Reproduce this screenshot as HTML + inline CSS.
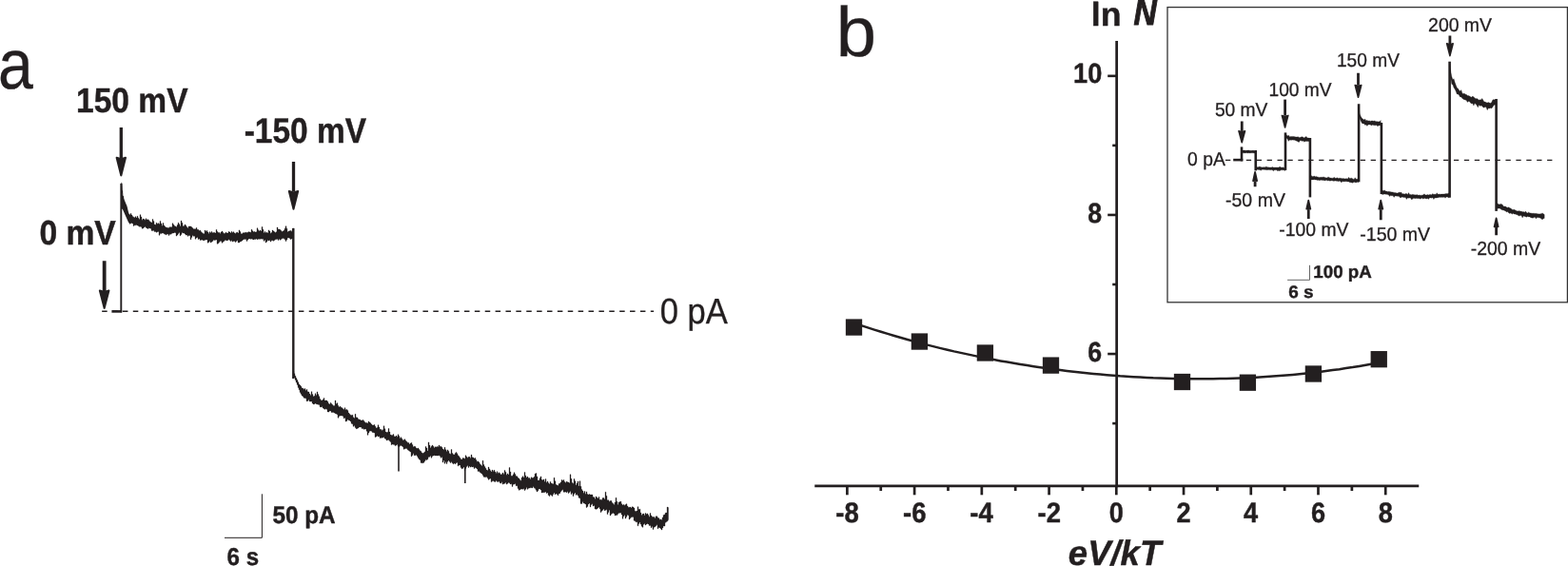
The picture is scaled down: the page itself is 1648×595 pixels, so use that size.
<!DOCTYPE html>
<html lang="en">
<head>
<meta charset="utf-8">
<title>Figure</title>
<style>
html,body{margin:0;padding:0;background:#fff;}
body{width:1648px;height:595px;overflow:hidden;}
svg{display:block;}
svg text{font-family:"Liberation Sans",sans-serif;fill:#231f20;text-rendering:geometricPrecision;}
</style>
</head>
<body>
<svg width="1648" height="595" viewBox="0 0 1648 595">
<rect x="0" y="0" width="1648" height="595" fill="#ffffff"/>
<text xml:space="preserve" transform="translate(-2.06 92.86) scale(0.8984 1)" font-size="73.70" stroke="#231f20" stroke-width="0.30" stroke-linejoin="round"><tspan>a</tspan></text>
<text xml:space="preserve" transform="translate(80.03 117.51) scale(0.9217 1)" font-size="36.40" stroke="#231f20" stroke-width="0.45" stroke-linejoin="round"><tspan font-weight="bold">150 mV</tspan></text>
<text xml:space="preserve" transform="translate(256.64 150.30) scale(0.8989 1)" font-size="37.24" stroke="#231f20" stroke-width="0.45" stroke-linejoin="round"><tspan font-weight="bold">-150 mV</tspan></text>
<text xml:space="preserve" transform="translate(41.38 257.41) scale(0.9315 1)" font-size="36.11" stroke="#231f20" stroke-width="0.45" stroke-linejoin="round"><tspan font-weight="bold">0 mV</tspan></text>
<text xml:space="preserve" transform="translate(693.77 340.47) scale(0.9166 1)" font-size="37.74" stroke="#231f20" stroke-width="0.30" stroke-linejoin="round"><tspan>0 pA</tspan></text>
<text xml:space="preserve" transform="translate(286.40 550.32) scale(0.9576 1)" font-size="25.37" stroke="#231f20" stroke-width="0.45" stroke-linejoin="round"><tspan font-weight="bold">50 pA</tspan></text>
<text xml:space="preserve" transform="translate(238.62 593.82) scale(0.9400 1)" font-size="25.65" stroke="#231f20" stroke-width="0.45" stroke-linejoin="round"><tspan font-weight="bold">6 s</tspan></text>
<rect x="125.65" y="134.00" width="3.30" height="32.30" fill="#231f20"/>
<polygon points="127.30,184.40 122.60,165.80 127.30,167.30 132.00,165.80" fill="#231f20" stroke="#231f20" stroke-width="2.00" stroke-linejoin="round"/>
<rect x="306.85" y="170.00" width="3.30" height="31.50" fill="#231f20"/>
<polygon points="308.50,219.70 303.80,201.00 308.50,202.50 313.20,201.00" fill="#231f20" stroke="#231f20" stroke-width="2.00" stroke-linejoin="round"/>
<rect x="107.75" y="274.25" width="3.80" height="31.75" fill="#231f20"/>
<polygon points="109.65,323.90 104.85,305.50 109.65,307.00 114.45,305.50" fill="#231f20" stroke="#231f20" stroke-width="2.00" stroke-linejoin="round"/>
<line x1="107.16" y1="327.20" x2="687.10" y2="327.20" stroke="#231f20" stroke-width="1.40" stroke-dasharray="5.5 5.38"/>
<polyline points="236.0,565.3 275.4,565.3 275.4,519.3" fill="none" stroke="#231f20" stroke-width="1.00" stroke-linejoin="miter" stroke-linecap="butt"/>
<line x1="117.40" y1="327.40" x2="128.20" y2="327.40" stroke="#231f20" stroke-width="2.60"/>
<line x1="127.30" y1="328.30" x2="127.30" y2="193.00" stroke="#231f20" stroke-width="1.90"/>
<line x1="308.30" y1="240.00" x2="308.30" y2="398.00" stroke="#231f20" stroke-width="2.40"/>
<polygon points="127.7,191.9 128.0,191.9 128.0,200.4 129.0,200.4 129.0,206.3 130.0,206.3 130.0,211.5 131.0,211.5 131.0,215.5 132.0,215.5 132.0,218.7 133.0,218.7 133.0,221.7 134.0,221.7 134.0,223.2 135.0,223.2 135.0,225.3 136.0,225.3 136.0,226.6 137.0,226.6 137.0,224.4 138.0,224.4 138.0,226.0 139.0,226.0 139.0,227.4 140.0,227.4 140.0,228.3 141.0,228.3 141.0,228.7 142.0,228.7 142.0,227.7 143.0,227.7 143.0,229.1 144.0,229.1 144.0,227.3 145.0,227.3 145.0,229.2 146.0,229.2 146.0,230.6 147.0,230.6 147.0,225.7 148.0,225.7 148.0,228.0 149.0,228.0 149.0,231.2 150.0,231.2 150.0,230.1 151.0,230.1 151.0,230.6 152.0,230.6 152.0,231.3 153.0,231.3 153.0,229.8 154.0,229.8 154.0,231.1 155.0,231.1 155.0,230.7 156.0,230.7 156.0,231.6 157.0,231.6 157.0,232.8 158.0,232.8 158.0,233.6 159.0,233.6 159.0,233.9 160.0,233.9 160.0,230.5 161.0,230.5 161.0,232.6 162.0,232.6 162.0,235.9 163.0,235.9 163.0,236.3 164.0,236.3 164.0,234.2 165.0,234.2 165.0,235.3 166.0,235.3 166.0,234.7 167.0,234.7 167.0,235.5 168.0,235.5 168.0,232.4 169.0,232.4 169.0,235.0 170.0,235.0 170.0,237.3 171.0,237.3 171.0,234.5 172.0,234.5 172.0,237.1 173.0,237.1 173.0,238.2 174.0,238.2 174.0,239.1 175.0,239.1 175.0,239.3 176.0,239.3 176.0,239.6 177.0,239.6 177.0,239.5 178.0,239.5 178.0,238.7 179.0,238.7 179.0,238.8 180.0,238.8 180.0,238.7 181.0,238.7 181.0,234.8 182.0,234.8 182.0,236.3 183.0,236.3 183.0,237.4 184.0,237.4 184.0,238.0 185.0,238.0 185.0,238.4 186.0,238.4 186.0,236.6 187.0,236.6 187.0,234.2 188.0,234.2 188.0,235.7 189.0,235.7 189.0,237.8 190.0,237.8 190.0,232.1 191.0,232.1 191.0,234.2 192.0,234.2 192.0,237.8 193.0,237.8 193.0,237.6 194.0,237.6 194.0,236.0 195.0,236.0 195.0,237.3 196.0,237.3 196.0,238.8 197.0,238.8 197.0,239.7 198.0,239.7 198.0,237.9 199.0,237.9 199.0,237.9 200.0,237.9 200.0,238.0 201.0,238.0 201.0,238.8 202.0,238.8 202.0,239.7 203.0,239.7 203.0,240.8 204.0,240.8 204.0,240.7 205.0,240.7 205.0,240.7 206.0,240.7 206.0,239.5 207.0,239.5 207.0,241.2 208.0,241.2 208.0,241.5 209.0,241.5 209.0,242.6 210.0,242.6 210.0,242.2 211.0,242.2 211.0,243.8 212.0,243.8 212.0,244.7 213.0,244.7 213.0,245.4 214.0,245.4 214.0,245.8 215.0,245.8 215.0,242.1 216.0,242.1 216.0,243.3 217.0,243.3 217.0,242.4 218.0,242.4 218.0,244.0 219.0,244.0 219.0,245.4 220.0,245.4 220.0,243.8 221.0,243.8 221.0,244.7 222.0,244.7 222.0,243.6 223.0,243.6 223.0,244.8 224.0,244.8 224.0,244.4 225.0,244.4 225.0,244.6 226.0,244.6 226.0,245.1 227.0,245.1 227.0,241.4 228.0,241.4 228.0,243.6 229.0,243.6 229.0,244.6 230.0,244.6 230.0,244.5 231.0,244.5 231.0,245.4 232.0,245.4 232.0,243.9 233.0,243.9 233.0,243.1 234.0,243.1 234.0,244.4 235.0,244.4 235.0,245.5 236.0,245.5 236.0,245.3 237.0,245.3 237.0,244.2 238.0,244.2 238.0,245.0 239.0,245.0 239.0,245.0 240.0,245.0 240.0,243.5 241.0,243.5 241.0,244.1 242.0,244.1 242.0,245.0 243.0,245.0 243.0,243.4 244.0,243.4 244.0,244.5 245.0,244.5 245.0,243.8 246.0,243.8 246.0,244.9 247.0,244.9 247.0,245.5 248.0,245.5 248.0,244.4 249.0,244.4 249.0,244.2 250.0,244.2 250.0,244.9 251.0,244.9 251.0,241.9 252.0,241.9 252.0,243.6 253.0,243.6 253.0,245.8 254.0,245.8 254.0,245.7 255.0,245.7 255.0,244.8 256.0,244.8 256.0,244.7 257.0,244.7 257.0,244.4 258.0,244.4 258.0,244.3 259.0,244.3 259.0,244.4 260.0,244.4 260.0,244.3 261.0,244.3 261.0,243.7 262.0,243.7 262.0,244.1 263.0,244.1 263.0,244.3 264.0,244.3 264.0,241.3 265.0,241.3 265.0,242.8 266.0,242.8 266.0,243.7 267.0,243.7 267.0,243.5 268.0,243.5 268.0,244.1 269.0,244.1 269.0,243.8 270.0,243.8 270.0,239.8 271.0,239.8 271.0,241.7 272.0,241.7 272.0,243.1 273.0,243.1 273.0,242.0 274.0,242.0 274.0,243.0 275.0,243.0 275.0,238.5 276.0,238.5 276.0,241.3 277.0,241.3 277.0,244.7 278.0,244.7 278.0,243.6 279.0,243.6 279.0,244.7 280.0,244.7 280.0,244.3 281.0,244.3 281.0,245.0 282.0,245.0 282.0,241.9 283.0,241.9 283.0,243.1 284.0,243.1 284.0,245.2 285.0,245.2 285.0,244.6 286.0,244.6 286.0,242.0 287.0,242.0 287.0,242.9 288.0,242.9 288.0,243.8 289.0,243.8 289.0,244.5 290.0,244.5 290.0,243.8 291.0,243.8 291.0,239.0 292.0,239.0 292.0,240.9 293.0,240.9 293.0,241.0 294.0,241.0 294.0,241.4 295.0,241.4 295.0,242.5 296.0,242.5 296.0,243.5 297.0,243.5 297.0,243.0 298.0,243.0 298.0,242.2 299.0,242.2 299.0,240.2 300.0,240.2 300.0,237.8 301.0,237.8 301.0,240.2 302.0,240.2 302.0,243.7 303.0,243.7 303.0,243.1 304.0,243.1 304.0,242.7 305.0,242.7 305.0,242.4 306.0,242.4 306.0,243.2 307.0,243.2 307.0,242.0 308.0,242.0 308.0,239.7 308.2,239.7 308.2,250.0 308.0,250.0 308.0,250.2 307.0,250.2 307.0,251.1 306.0,251.1 306.0,251.5 305.0,251.5 305.0,250.4 304.0,250.4 304.0,250.1 303.0,250.1 303.0,250.1 302.0,250.1 302.0,252.0 301.0,252.0 301.0,253.5 300.0,253.5 300.0,251.8 299.0,251.8 299.0,250.8 298.0,250.8 298.0,250.6 297.0,250.6 297.0,250.8 296.0,250.8 296.0,251.4 295.0,251.4 295.0,252.2 294.0,252.2 294.0,251.3 293.0,251.3 293.0,252.4 292.0,252.4 292.0,251.2 291.0,251.2 291.0,251.5 290.0,251.5 290.0,251.8 289.0,251.8 289.0,252.4 288.0,252.4 288.0,253.2 287.0,253.2 287.0,252.8 286.0,252.8 286.0,252.7 285.0,252.7 285.0,254.1 284.0,254.1 284.0,252.6 283.0,252.6 283.0,252.9 282.0,252.9 282.0,252.4 281.0,252.4 281.0,254.0 280.0,254.0 280.0,255.1 279.0,255.1 279.0,252.3 278.0,252.3 278.0,253.3 277.0,253.3 277.0,251.3 276.0,251.3 276.0,251.2 275.0,251.2 275.0,251.0 274.0,251.0 274.0,251.3 273.0,251.3 273.0,251.2 272.0,251.2 272.0,251.3 271.0,251.3 271.0,251.8 270.0,251.8 270.0,251.0 269.0,251.0 269.0,251.5 268.0,251.5 268.0,251.4 267.0,251.4 267.0,251.9 266.0,251.9 266.0,251.6 265.0,251.6 265.0,251.0 264.0,251.0 264.0,251.3 263.0,251.3 263.0,251.0 262.0,251.0 262.0,251.0 261.0,251.0 261.0,252.1 260.0,252.1 260.0,253.4 259.0,253.4 259.0,251.6 258.0,251.6 258.0,251.4 257.0,251.4 257.0,251.6 256.0,251.6 256.0,252.0 255.0,252.0 255.0,252.9 254.0,252.9 254.0,253.7 253.0,253.7 253.0,253.9 252.0,253.9 252.0,255.0 251.0,255.0 251.0,255.1 250.0,255.1 250.0,252.7 249.0,252.7 249.0,253.6 248.0,253.6 248.0,254.4 247.0,254.4 247.0,253.4 246.0,253.4 246.0,253.4 245.0,253.4 245.0,254.1 244.0,254.1 244.0,252.8 243.0,252.8 243.0,253.6 242.0,253.6 242.0,252.4 241.0,252.4 241.0,251.8 240.0,251.8 240.0,252.5 239.0,252.5 239.0,253.0 238.0,253.0 238.0,252.4 237.0,252.4 237.0,252.5 236.0,252.5 236.0,253.5 235.0,253.5 235.0,254.2 234.0,254.2 234.0,255.3 233.0,255.3 233.0,253.6 232.0,253.6 232.0,253.6 231.0,253.6 231.0,254.6 230.0,254.6 230.0,255.7 229.0,255.7 229.0,256.3 228.0,256.3 228.0,251.9 227.0,251.9 227.0,252.3 226.0,252.3 226.0,252.5 225.0,252.5 225.0,252.2 224.0,252.2 224.0,253.5 223.0,253.5 223.0,254.2 222.0,254.2 222.0,254.9 221.0,254.9 221.0,253.6 220.0,253.6 220.0,254.6 219.0,254.6 219.0,255.2 218.0,255.2 218.0,251.9 217.0,251.9 217.0,252.0 216.0,252.0 216.0,252.3 215.0,252.3 215.0,252.8 214.0,252.8 214.0,252.7 213.0,252.7 213.0,252.1 212.0,252.1 212.0,252.3 211.0,252.3 211.0,252.4 210.0,252.4 210.0,251.0 209.0,251.0 209.0,251.5 208.0,251.5 208.0,249.4 207.0,249.4 207.0,250.1 206.0,250.1 206.0,251.2 205.0,251.2 205.0,248.3 204.0,248.3 204.0,248.3 203.0,248.3 203.0,247.5 202.0,247.5 202.0,249.5 201.0,249.5 201.0,251.7 200.0,251.7 200.0,247.7 199.0,247.7 199.0,247.5 198.0,247.5 198.0,248.3 197.0,248.3 197.0,247.0 196.0,247.0 196.0,247.1 195.0,247.1 195.0,246.0 194.0,246.0 194.0,245.1 193.0,245.1 193.0,245.1 192.0,245.1 192.0,244.5 191.0,244.5 191.0,246.5 190.0,246.5 190.0,247.8 189.0,247.8 189.0,244.4 188.0,244.4 188.0,245.5 187.0,245.5 187.0,247.0 186.0,247.0 186.0,248.1 185.0,248.1 185.0,244.7 184.0,244.7 184.0,244.5 183.0,244.5 183.0,244.9 182.0,244.9 182.0,245.1 181.0,245.1 181.0,245.6 180.0,245.6 180.0,246.2 179.0,246.2 179.0,246.2 178.0,246.2 178.0,247.4 177.0,247.4 177.0,246.0 176.0,246.0 176.0,246.2 175.0,246.2 175.0,246.8 174.0,246.8 174.0,246.3 173.0,246.3 173.0,245.8 172.0,245.8 172.0,245.0 171.0,245.0 171.0,245.1 170.0,245.1 170.0,245.6 169.0,245.6 169.0,245.6 168.0,245.6 168.0,247.2 167.0,247.2 167.0,243.5 166.0,243.5 166.0,243.7 165.0,243.7 165.0,244.2 164.0,244.2 164.0,243.5 163.0,243.5 163.0,243.6 162.0,243.6 162.0,242.2 161.0,242.2 161.0,242.6 160.0,242.6 160.0,242.4 159.0,242.4 159.0,240.2 158.0,240.2 158.0,240.1 157.0,240.1 157.0,239.7 156.0,239.7 156.0,240.4 155.0,240.4 155.0,239.9 154.0,239.9 154.0,239.3 153.0,239.3 153.0,238.2 152.0,238.2 152.0,238.9 151.0,238.9 151.0,239.9 150.0,239.9 150.0,240.2 149.0,240.2 149.0,238.4 148.0,238.4 148.0,238.2 147.0,238.2 147.0,238.2 146.0,238.2 146.0,237.4 145.0,237.4 145.0,236.9 144.0,236.9 144.0,236.6 143.0,236.6 143.0,236.8 142.0,236.8 142.0,236.8 141.0,236.8 141.0,237.4 140.0,237.4 140.0,235.0 139.0,235.0 139.0,234.5 138.0,234.5 138.0,234.7 137.0,234.7 137.0,235.3 136.0,235.3 136.0,231.6 135.0,231.6 135.0,229.3 134.0,229.3 134.0,227.3 133.0,227.3 133.0,224.4 132.0,224.4 132.0,220.3 131.0,220.3 131.0,216.2 130.0,216.2 130.0,210.1 129.0,210.1 129.0,203.3 128.0,203.3 128.0,194.5 127.7,194.5" fill="#231f20" stroke="#231f20" stroke-width="0.3" stroke-linejoin="round"/>
<polygon points="127.3,193 128.3,193 128.9,205 131,211 133.5,216.8 135.3,224.4 138,227 138,234 135.3,234.2 132,227 128.8,219.7 127.3,219.7" fill="#231f20"/>
<polygon points="308.2,390.3 309.0,390.3 309.0,392.7 310.0,392.7 310.0,395.2 311.0,395.2 311.0,397.5 312.0,397.5 312.0,399.6 313.0,399.6 313.0,401.8 314.0,401.8 314.0,404.0 315.0,404.0 315.0,405.1 316.0,405.1 316.0,406.3 317.0,406.3 317.0,408.0 318.0,408.0 318.0,408.2 319.0,408.2 319.0,409.3 320.0,409.3 320.0,408.6 321.0,408.6 321.0,410.6 322.0,410.6 322.0,409.4 323.0,409.4 323.0,411.7 324.0,411.7 324.0,412.1 325.0,412.1 325.0,414.0 326.0,414.0 326.0,415.5 327.0,415.5 327.0,411.7 328.0,411.7 328.0,414.5 329.0,414.5 329.0,416.7 330.0,416.7 330.0,416.3 331.0,416.3 331.0,413.7 332.0,413.7 332.0,415.5 333.0,415.5 333.0,411.9 334.0,411.9 334.0,414.6 335.0,414.6 335.0,416.7 336.0,416.7 336.0,419.5 337.0,419.5 337.0,420.8 338.0,420.8 338.0,420.9 339.0,420.9 339.0,420.1 340.0,420.1 340.0,418.6 341.0,418.6 341.0,421.1 342.0,421.1 342.0,420.9 343.0,420.9 343.0,421.1 344.0,421.1 344.0,422.3 345.0,422.3 345.0,424.3 346.0,424.3 346.0,425.0 347.0,425.0 347.0,423.4 348.0,423.4 348.0,424.4 349.0,424.4 349.0,425.6 350.0,425.6 350.0,426.4 351.0,426.4 351.0,426.4 352.0,426.4 352.0,421.1 353.0,421.1 353.0,424.5 354.0,424.5 354.0,423.7 355.0,423.7 355.0,426.4 356.0,426.4 356.0,428.0 357.0,428.0 357.0,427.2 358.0,427.2 358.0,428.2 359.0,428.2 359.0,428.7 360.0,428.7 360.0,429.8 361.0,429.8 361.0,430.5 362.0,430.5 362.0,428.7 363.0,428.7 363.0,430.8 364.0,430.8 364.0,430.4 365.0,430.4 365.0,431.6 366.0,431.6 366.0,434.1 367.0,434.1 367.0,435.3 368.0,435.3 368.0,436.3 369.0,436.3 369.0,436.4 370.0,436.4 370.0,436.2 371.0,436.2 371.0,438.8 372.0,438.8 372.0,439.5 373.0,439.5 373.0,435.3 374.0,435.3 374.0,438.8 375.0,438.8 375.0,438.9 376.0,438.9 376.0,440.4 377.0,440.4 377.0,441.1 378.0,441.1 378.0,441.2 379.0,441.2 379.0,442.1 380.0,442.1 380.0,441.9 381.0,441.9 381.0,441.4 382.0,441.4 382.0,442.4 383.0,442.4 383.0,443.8 384.0,443.8 384.0,444.5 385.0,444.5 385.0,444.4 386.0,444.4 386.0,444.9 387.0,444.9 387.0,443.0 388.0,443.0 388.0,444.1 389.0,444.1 389.0,444.8 390.0,444.8 390.0,446.0 391.0,446.0 391.0,446.9 392.0,446.9 392.0,446.9 393.0,446.9 393.0,446.4 394.0,446.4 394.0,448.2 395.0,448.2 395.0,449.9 396.0,449.9 396.0,449.5 397.0,449.5 397.0,446.8 398.0,446.8 398.0,449.1 399.0,449.1 399.0,451.3 400.0,451.3 400.0,451.5 401.0,451.5 401.0,452.4 402.0,452.4 402.0,451.8 403.0,451.8 403.0,447.8 404.0,447.8 404.0,450.7 405.0,450.7 405.0,454.1 406.0,454.1 406.0,454.5 407.0,454.5 407.0,454.2 408.0,454.2 408.0,450.5 409.0,450.5 409.0,454.1 410.0,454.1 410.0,457.0 411.0,457.0 411.0,457.5 412.0,457.5 412.0,457.4 413.0,457.4 413.0,456.6 414.0,456.6 414.0,458.8 415.0,458.8 415.0,459.1 416.0,459.1 416.0,458.1 417.0,458.1 417.0,459.3 418.0,459.3 418.0,456.8 419.0,456.8 419.0,458.6 420.0,458.6 420.0,460.7 421.0,460.7 421.0,459.8 422.0,459.8 422.0,461.2 423.0,461.2 423.0,462.7 424.0,462.7 424.0,462.4 425.0,462.4 425.0,461.8 426.0,461.8 426.0,463.2 427.0,463.2 427.0,464.3 428.0,464.3 428.0,465.2 429.0,465.2 429.0,465.5 430.0,465.5 430.0,466.9 431.0,466.9 431.0,465.9 432.0,465.9 432.0,465.4 433.0,465.4 433.0,467.5 434.0,467.5 434.0,469.7 435.0,469.7 435.0,469.2 436.0,469.2 436.0,469.5 437.0,469.5 437.0,471.0 438.0,471.0 438.0,471.5 439.0,471.5 439.0,471.1 440.0,471.1 440.0,471.4 440.0,471.4 440.0,480.8 440.0,480.8 440.0,481.3 439.0,481.3 439.0,479.4 438.0,479.4 438.0,478.3 437.0,478.3 437.0,478.7 436.0,478.7 436.0,478.7 435.0,478.7 435.0,476.8 434.0,476.8 434.0,478.5 433.0,478.5 433.0,479.7 432.0,479.7 432.0,475.1 431.0,475.1 431.0,474.2 430.0,474.2 430.0,473.6 429.0,473.6 429.0,472.7 428.0,472.7 428.0,471.4 427.0,471.4 427.0,471.5 426.0,471.5 426.0,471.7 425.0,471.7 425.0,472.2 424.0,472.2 424.0,469.8 423.0,469.8 423.0,468.9 422.0,468.9 422.0,468.2 421.0,468.2 421.0,468.8 420.0,468.8 420.0,469.7 419.0,469.7 419.0,469.1 418.0,469.1 418.0,467.3 417.0,467.3 417.0,468.1 416.0,468.1 416.0,468.6 415.0,468.6 415.0,467.6 414.0,467.6 414.0,467.3 413.0,467.3 413.0,466.9 412.0,466.9 412.0,467.6 411.0,467.6 411.0,464.5 410.0,464.5 410.0,463.6 409.0,463.6 409.0,462.4 408.0,462.4 408.0,462.4 407.0,462.4 407.0,463.0 406.0,463.0 406.0,461.6 405.0,461.6 405.0,460.9 404.0,460.9 404.0,459.4 403.0,459.4 403.0,459.9 402.0,459.9 402.0,460.3 401.0,460.3 401.0,460.3 400.0,460.3 400.0,460.5 399.0,460.5 399.0,458.7 398.0,458.7 398.0,458.9 397.0,458.9 397.0,457.9 396.0,457.9 396.0,459.1 395.0,459.1 395.0,459.4 394.0,459.4 394.0,455.0 393.0,455.0 393.0,454.7 392.0,454.7 392.0,454.5 391.0,454.5 391.0,453.3 390.0,453.3 390.0,453.0 389.0,453.0 389.0,453.3 388.0,453.3 388.0,455.1 387.0,455.1 387.0,457.3 386.0,457.3 386.0,453.2 385.0,453.2 385.0,451.1 384.0,451.1 384.0,451.0 383.0,451.0 383.0,451.3 382.0,451.3 382.0,450.4 381.0,450.4 381.0,450.5 380.0,450.5 380.0,449.1 379.0,449.1 379.0,448.9 378.0,448.9 378.0,449.0 377.0,449.0 377.0,449.9 376.0,449.9 376.0,450.5 375.0,450.5 375.0,450.7 374.0,450.7 374.0,449.5 373.0,449.5 373.0,447.6 372.0,447.6 372.0,448.2 371.0,448.2 371.0,445.8 370.0,445.8 370.0,445.2 369.0,445.2 369.0,443.0 368.0,443.0 368.0,442.0 367.0,442.0 367.0,441.7 366.0,441.7 366.0,441.0 365.0,441.0 365.0,442.5 364.0,442.5 364.0,443.1 363.0,443.1 363.0,439.3 362.0,439.3 362.0,439.7 361.0,439.7 361.0,437.4 360.0,437.4 360.0,437.1 359.0,437.1 359.0,437.1 358.0,437.1 358.0,437.1 357.0,437.1 357.0,437.6 356.0,437.6 356.0,439.2 355.0,439.2 355.0,435.8 354.0,435.8 354.0,435.1 353.0,435.1 353.0,434.7 352.0,434.7 352.0,434.0 351.0,434.0 351.0,433.6 350.0,433.6 350.0,433.4 349.0,433.4 349.0,433.4 348.0,433.4 348.0,432.0 347.0,432.0 347.0,432.0 346.0,432.0 346.0,433.1 345.0,433.1 345.0,432.9 344.0,432.9 344.0,430.3 343.0,430.3 343.0,429.7 342.0,429.7 342.0,430.2 341.0,430.2 341.0,429.8 340.0,429.8 340.0,428.9 339.0,428.9 339.0,427.5 338.0,427.5 338.0,428.0 337.0,428.0 337.0,427.7 336.0,427.7 336.0,425.5 335.0,425.5 335.0,425.3 334.0,425.3 334.0,425.0 333.0,425.0 333.0,424.7 332.0,424.7 332.0,424.1 331.0,424.1 331.0,424.8 330.0,424.8 330.0,424.9 329.0,424.9 329.0,424.1 328.0,424.1 328.0,422.1 327.0,422.1 327.0,422.1 326.0,422.1 326.0,421.9 325.0,421.9 325.0,420.3 324.0,420.3 324.0,421.4 323.0,421.4 323.0,421.7 322.0,421.7 322.0,418.7 321.0,418.7 321.0,418.5 320.0,418.5 320.0,418.2 319.0,418.2 319.0,416.8 318.0,416.8 318.0,415.9 317.0,415.9 317.0,414.3 316.0,414.3 316.0,412.6 315.0,412.6 315.0,409.8 314.0,409.8 314.0,407.4 313.0,407.4 313.0,404.4 312.0,404.4 312.0,402.0 311.0,402.0 311.0,399.6 310.0,399.6 310.0,396.8 309.0,396.8 309.0,393.6 308.2,393.6" fill="#231f20" stroke="#231f20" stroke-width="0.3" stroke-linejoin="round"/>
<polygon points="440.0,472.5 441.0,472.5 441.0,473.7 442.0,473.7 442.0,474.6 443.0,474.6 443.0,476.1 444.0,476.1 444.0,476.4 445.0,476.4 445.0,475.9 446.0,475.9 446.0,474.9 447.0,474.9 447.0,469.5 448.0,469.5 448.0,471.0 449.0,471.0 449.0,473.9 450.0,473.9 450.0,464.9 451.0,464.9 451.0,468.0 452.0,468.0 452.0,470.7 453.0,470.7 453.0,469.2 454.0,469.2 454.0,468.0 455.0,468.0 455.0,469.2 456.0,469.2 456.0,470.8 457.0,470.8 457.0,469.8 458.0,469.8 458.0,469.9 459.0,469.9 459.0,469.4 460.0,469.4 460.0,469.8 461.0,469.8 461.0,468.0 462.0,468.0 462.0,469.4 463.0,469.4 463.0,469.3 464.0,469.3 464.0,470.2 465.0,470.2 465.0,472.0 466.0,472.0 466.0,472.7 467.0,472.7 467.0,470.3 468.0,470.3 468.0,472.7 469.0,472.7 469.0,474.4 470.0,474.4 470.0,472.9 471.0,472.9 471.0,474.2 472.0,474.2 472.0,476.7 473.0,476.7 473.0,477.2 474.0,477.2 474.0,472.5 475.0,472.5 475.0,476.5 476.0,476.5 476.0,477.7 477.0,477.7 477.0,477.9 478.0,477.9 478.0,476.6 479.0,476.6 479.0,475.4 480.0,475.4 480.0,476.8 481.0,476.8 481.0,478.8 482.0,478.8 482.0,479.7 483.0,479.7 483.0,481.3 484.0,481.3 484.0,482.8 485.0,482.8 485.0,483.0 486.0,483.0 486.0,481.6 487.0,481.6 487.0,481.7 488.0,481.7 488.0,482.3 489.0,482.3 489.0,478.8 490.0,478.8 490.0,480.2 491.0,480.2 491.0,481.3 492.0,481.3 492.0,480.3 493.0,480.3 493.0,480.3 494.0,480.3 494.0,481.4 495.0,481.4 495.0,478.1 496.0,478.1 496.0,480.7 497.0,480.7 497.0,481.1 498.0,481.1 498.0,481.9 499.0,481.9 499.0,481.4 500.0,481.4 500.0,483.6 501.0,483.6 501.0,485.2 502.0,485.2 502.0,484.9 503.0,484.9 503.0,485.9 504.0,485.9 504.0,487.8 505.0,487.8 505.0,488.8 506.0,488.8 506.0,489.8 507.0,489.8 507.0,484.2 508.0,484.2 508.0,488.5 509.0,488.5 509.0,490.5 510.0,490.5 510.0,492.2 511.0,492.2 511.0,494.0 512.0,494.0 512.0,494.4 513.0,494.4 513.0,491.0 514.0,491.0 514.0,492.9 515.0,492.9 515.0,494.7 516.0,494.7 516.0,496.0 517.0,496.0 517.0,494.1 518.0,494.1 518.0,495.4 519.0,495.4 519.0,494.3 520.0,494.3 520.0,496.0 521.0,496.0 521.0,497.6 522.0,497.6 522.0,495.7 523.0,495.7 523.0,497.5 524.0,497.5 524.0,496.8 525.0,496.8 525.0,497.7 526.0,497.7 526.0,498.9 527.0,498.9 527.0,498.6 528.0,498.6 528.0,497.1 529.0,497.1 529.0,498.6 530.0,498.6 530.0,494.4 531.0,494.4 531.0,496.2 532.0,496.2 532.0,499.2 533.0,499.2 533.0,497.9 534.0,497.9 534.0,498.9 535.0,498.9 535.0,491.6 536.0,491.6 536.0,496.0 537.0,496.0 537.0,500.2 538.0,500.2 538.0,500.3 539.0,500.3 539.0,498.7 540.0,498.7 540.0,496.7 541.0,496.7 541.0,498.5 542.0,498.5 542.0,500.5 543.0,500.5 543.0,500.8 544.0,500.8 544.0,502.3 545.0,502.3 545.0,503.1 546.0,503.1 546.0,504.4 547.0,504.4 547.0,505.2 548.0,505.2 548.0,502.1 549.0,502.1 549.0,500.7 550.0,500.7 550.0,502.1 551.0,502.1 551.0,496.4 552.0,496.4 552.0,500.0 553.0,500.0 553.0,502.0 554.0,502.0 554.0,501.1 555.0,501.1 555.0,502.6 556.0,502.6 556.0,502.4 557.0,502.4 557.0,503.8 558.0,503.8 558.0,501.8 559.0,501.8 559.0,502.5 560.0,502.5 560.0,502.6 560.0,502.6 560.0,511.9 560.0,511.9 560.0,512.9 559.0,512.9 559.0,512.7 558.0,512.7 558.0,512.8 557.0,512.8 557.0,513.0 556.0,513.0 556.0,513.3 555.0,513.3 555.0,514.3 554.0,514.3 554.0,512.6 553.0,512.6 553.0,514.2 552.0,514.2 552.0,515.5 551.0,515.5 551.0,513.7 550.0,513.7 550.0,514.2 549.0,514.2 549.0,513.9 548.0,513.9 548.0,514.2 547.0,514.2 547.0,514.8 546.0,514.8 546.0,515.2 545.0,515.2 545.0,513.5 544.0,513.5 544.0,510.7 543.0,510.7 543.0,510.7 542.0,510.7 542.0,508.6 541.0,508.6 541.0,509.0 540.0,509.0 540.0,509.3 539.0,509.3 539.0,511.4 538.0,511.4 538.0,508.8 537.0,508.8 537.0,508.9 536.0,508.9 536.0,507.8 535.0,507.8 535.0,507.2 534.0,507.2 534.0,508.3 533.0,508.3 533.0,509.1 532.0,509.1 532.0,507.2 531.0,507.2 531.0,508.2 530.0,508.2 530.0,508.5 529.0,508.5 529.0,509.1 528.0,509.1 528.0,506.8 527.0,506.8 527.0,508.1 526.0,508.1 526.0,507.6 525.0,507.6 525.0,506.1 524.0,506.1 524.0,506.6 523.0,506.6 523.0,506.3 522.0,506.3 522.0,505.3 521.0,505.3 521.0,506.4 520.0,506.4 520.0,506.2 519.0,506.2 519.0,505.5 518.0,505.5 518.0,505.8 517.0,505.8 517.0,506.6 516.0,506.6 516.0,503.1 515.0,503.1 515.0,503.5 514.0,503.5 514.0,504.2 513.0,504.2 513.0,502.5 512.0,502.5 512.0,501.3 511.0,501.3 511.0,501.5 510.0,501.5 510.0,501.5 509.0,501.5 509.0,501.3 508.0,501.3 508.0,499.5 507.0,499.5 507.0,498.1 506.0,498.1 506.0,497.2 505.0,497.2 505.0,496.6 504.0,496.6 504.0,495.4 503.0,495.4 503.0,495.4 502.0,495.4 502.0,493.1 501.0,493.1 501.0,492.1 500.0,492.1 500.0,491.6 499.0,491.6 499.0,492.5 498.0,492.5 498.0,490.7 497.0,490.7 497.0,490.9 496.0,490.9 496.0,490.6 495.0,490.6 495.0,491.1 494.0,491.1 494.0,490.0 493.0,490.0 493.0,491.4 492.0,491.4 492.0,489.4 491.0,489.4 491.0,490.6 490.0,490.6 490.0,492.4 489.0,492.4 489.0,495.0 488.0,495.0 488.0,491.0 487.0,491.0 487.0,492.3 486.0,492.3 486.0,492.8 485.0,492.8 485.0,491.6 484.0,491.6 484.0,488.9 483.0,488.9 483.0,489.1 482.0,489.1 482.0,489.8 481.0,489.8 481.0,486.3 480.0,486.3 480.0,486.7 479.0,486.7 479.0,487.7 478.0,487.7 478.0,486.9 477.0,486.9 477.0,487.8 476.0,487.8 476.0,486.8 475.0,486.8 475.0,485.5 474.0,485.5 474.0,486.5 473.0,486.5 473.0,485.3 472.0,485.3 472.0,483.9 471.0,483.9 471.0,485.2 470.0,485.2 470.0,487.5 469.0,487.5 469.0,485.6 468.0,485.6 468.0,487.2 467.0,487.2 467.0,484.1 466.0,484.1 466.0,486.0 465.0,486.0 465.0,480.5 464.0,480.5 464.0,481.2 463.0,481.2 463.0,479.4 462.0,479.4 462.0,478.7 461.0,478.7 461.0,479.0 460.0,479.0 460.0,479.0 459.0,479.0 459.0,478.9 458.0,478.9 458.0,478.9 457.0,478.9 457.0,478.7 456.0,478.7 456.0,478.9 455.0,478.9 455.0,479.6 454.0,479.6 454.0,481.2 453.0,481.2 453.0,479.3 452.0,479.3 452.0,480.2 451.0,480.2 451.0,480.4 450.0,480.4 450.0,482.7 449.0,482.7 449.0,483.5 448.0,483.5 448.0,483.2 447.0,483.2 447.0,484.7 446.0,484.7 446.0,486.3 445.0,486.3 445.0,486.7 444.0,486.7 444.0,486.7 443.0,486.7 443.0,486.4 442.0,486.4 442.0,483.5 441.0,483.5 441.0,482.7 440.0,482.7" fill="#231f20" stroke="#231f20" stroke-width="0.3" stroke-linejoin="round"/>
<polygon points="560.0,502.3 561.0,502.3 561.0,501.2 562.0,501.2 562.0,498.1 563.0,498.1 563.0,497.6 564.0,497.6 564.0,500.9 565.0,500.9 565.0,505.1 566.0,505.1 566.0,505.0 567.0,505.0 567.0,502.7 568.0,502.7 568.0,500.9 569.0,500.9 569.0,504.3 570.0,504.3 570.0,504.7 571.0,504.7 571.0,503.9 572.0,503.9 572.0,506.3 573.0,506.3 573.0,503.6 574.0,503.6 574.0,507.2 575.0,507.2 575.0,506.0 576.0,506.0 576.0,507.8 577.0,507.8 577.0,508.7 578.0,508.7 578.0,506.4 579.0,506.4 579.0,508.0 580.0,508.0 580.0,508.4 581.0,508.4 581.0,508.8 582.0,508.8 582.0,502.2 583.0,502.2 583.0,505.8 584.0,505.8 584.0,509.5 585.0,509.5 585.0,510.0 586.0,510.0 586.0,510.6 587.0,510.6 587.0,508.5 588.0,508.5 588.0,508.3 589.0,508.3 589.0,506.9 590.0,506.9 590.0,504.5 591.0,504.5 591.0,505.3 592.0,505.3 592.0,504.5 593.0,504.5 593.0,506.6 594.0,506.6 594.0,507.6 595.0,507.6 595.0,506.2 596.0,506.2 596.0,506.8 597.0,506.8 597.0,507.1 598.0,507.1 598.0,507.8 599.0,507.8 599.0,498.8 600.0,498.8 600.0,503.3 601.0,503.3 601.0,507.6 602.0,507.6 602.0,508.2 603.0,508.2 603.0,503.4 604.0,503.4 604.0,505.8 605.0,505.8 605.0,509.9 606.0,509.9 606.0,508.1 607.0,508.1 607.0,506.0 608.0,506.0 608.0,511.1 609.0,511.1 609.0,505.7 610.0,505.7 610.0,511.3 611.0,511.3 611.0,514.6 612.0,514.6 612.0,516.1 613.0,516.1 613.0,518.2 614.0,518.2 614.0,516.5 615.0,516.5 615.0,519.2 616.0,519.2 616.0,516.9 617.0,516.9 617.0,519.5 618.0,519.5 618.0,520.0 619.0,520.0 619.0,519.6 620.0,519.6 620.0,520.1 621.0,520.1 621.0,520.0 622.0,520.0 622.0,520.1 623.0,520.1 623.0,522.5 624.0,522.5 624.0,522.8 625.0,522.8 625.0,524.5 626.0,524.5 626.0,521.9 627.0,521.9 627.0,523.0 628.0,523.0 628.0,523.9 629.0,523.9 629.0,522.4 630.0,522.4 630.0,525.3 631.0,525.3 631.0,525.3 632.0,525.3 632.0,525.4 633.0,525.4 633.0,523.6 634.0,523.6 634.0,523.4 635.0,523.4 635.0,524.8 636.0,524.8 636.0,517.2 637.0,517.2 637.0,521.3 638.0,521.3 638.0,525.7 639.0,525.7 639.0,525.8 640.0,525.8 640.0,527.3 641.0,527.3 641.0,526.6 642.0,526.6 642.0,526.4 643.0,526.4 643.0,528.4 644.0,528.4 644.0,529.5 645.0,529.5 645.0,530.4 646.0,530.4 646.0,527.9 647.0,527.9 647.0,523.3 648.0,523.3 648.0,527.3 649.0,527.3 649.0,530.6 650.0,530.6 650.0,528.0 651.0,528.0 651.0,527.6 652.0,527.6 652.0,527.2 653.0,527.2 653.0,529.8 654.0,529.8 654.0,531.0 655.0,531.0 655.0,530.5 656.0,530.5 656.0,531.3 657.0,531.3 657.0,530.5 658.0,530.5 658.0,529.8 659.0,529.8 659.0,532.0 660.0,532.0 660.0,533.2 661.0,533.2 661.0,533.3 662.0,533.3 662.0,533.1 663.0,533.1 663.0,534.0 664.0,534.0 664.0,532.8 665.0,532.8 665.0,533.0 666.0,533.0 666.0,534.1 667.0,534.1 667.0,537.3 668.0,537.3 668.0,537.6 669.0,537.6 669.0,537.1 670.0,537.1 670.0,532.7 671.0,532.7 671.0,535.5 672.0,535.5 672.0,535.2 673.0,535.2 673.0,539.0 674.0,539.0 674.0,541.6 675.0,541.6 675.0,540.3 676.0,540.3 676.0,540.0 677.0,540.0 677.0,541.8 678.0,541.8 678.0,539.5 679.0,539.5 679.0,540.6 680.0,540.6 680.0,539.9 681.0,539.9 681.0,541.4 682.0,541.4 682.0,543.3 683.0,543.3 683.0,539.5 684.0,539.5 684.0,542.0 685.0,542.0 685.0,543.2 686.0,543.2 686.0,543.5 687.0,543.5 687.0,543.4 688.0,543.4 688.0,544.8 689.0,544.8 689.0,542.8 690.0,542.8 690.0,542.8 691.0,542.8 691.0,544.3 692.0,544.3 692.0,544.7 693.0,544.7 693.0,546.2 694.0,546.2 694.0,545.9 695.0,545.9 695.0,546.4 696.0,546.4 696.0,544.0 697.0,544.0 697.0,541.4 698.0,541.4 698.0,540.9 699.0,540.9 699.0,539.2 700.0,539.2 700.0,539.1 701.0,539.1 701.0,533.1 702.0,533.1 702.0,533.6 702.5,533.6 702.5,546.6 702.0,546.6 702.0,547.8 701.0,547.8 701.0,548.6 700.0,548.6 700.0,549.3 699.0,549.3 699.0,553.1 698.0,553.1 698.0,553.0 697.0,553.0 697.0,554.9 696.0,554.9 696.0,557.0 695.0,557.0 695.0,555.7 694.0,555.7 694.0,554.9 693.0,554.9 693.0,554.5 692.0,554.5 692.0,555.8 691.0,555.8 691.0,551.7 690.0,551.7 690.0,552.7 689.0,552.7 689.0,553.7 688.0,553.7 688.0,554.2 687.0,554.2 687.0,556.5 686.0,556.5 686.0,553.6 685.0,553.6 685.0,554.8 684.0,554.8 684.0,552.5 683.0,552.5 683.0,552.6 682.0,552.6 682.0,550.9 681.0,550.9 681.0,550.4 680.0,550.4 680.0,551.0 679.0,551.0 679.0,552.0 678.0,552.0 678.0,550.6 677.0,550.6 677.0,551.3 676.0,551.3 676.0,554.2 675.0,554.2 675.0,553.3 674.0,553.3 674.0,551.0 673.0,551.0 673.0,549.1 672.0,549.1 672.0,550.6 671.0,550.6 671.0,552.8 670.0,552.8 670.0,548.7 669.0,548.7 669.0,548.8 668.0,548.8 668.0,547.7 667.0,547.7 667.0,547.3 666.0,547.3 666.0,543.4 665.0,543.4 665.0,543.4 664.0,543.4 664.0,543.7 663.0,543.7 663.0,544.7 662.0,544.7 662.0,546.0 661.0,546.0 661.0,541.8 660.0,541.8 660.0,541.3 659.0,541.3 659.0,543.3 658.0,543.3 658.0,545.1 657.0,545.1 657.0,541.6 656.0,541.6 656.0,542.7 655.0,542.7 655.0,545.2 654.0,545.2 654.0,540.9 653.0,540.9 653.0,539.0 652.0,539.0 652.0,539.2 651.0,539.2 651.0,539.3 650.0,539.3 650.0,540.3 649.0,540.3 649.0,541.6 648.0,541.6 648.0,541.4 647.0,541.4 647.0,541.9 646.0,541.9 646.0,540.0 645.0,540.0 645.0,539.2 644.0,539.2 644.0,539.7 643.0,539.7 643.0,540.4 642.0,540.4 642.0,541.9 641.0,541.9 641.0,536.2 640.0,536.2 640.0,538.5 639.0,538.5 639.0,540.6 638.0,540.6 638.0,535.8 637.0,535.8 637.0,536.3 636.0,536.3 636.0,536.7 635.0,536.7 635.0,535.1 634.0,535.1 634.0,536.2 633.0,536.2 633.0,537.2 632.0,537.2 632.0,538.5 631.0,538.5 631.0,534.7 630.0,534.7 630.0,533.0 629.0,533.0 629.0,534.0 628.0,534.0 628.0,535.0 627.0,535.0 627.0,535.3 626.0,535.3 626.0,535.0 625.0,535.0 625.0,531.5 624.0,531.5 624.0,532.0 623.0,532.0 623.0,529.8 622.0,529.8 622.0,530.6 621.0,530.6 621.0,532.9 620.0,532.9 620.0,529.0 619.0,529.0 619.0,529.9 618.0,529.9 618.0,532.4 617.0,532.4 617.0,533.4 616.0,533.4 616.0,529.9 615.0,529.9 615.0,529.3 614.0,529.3 614.0,528.9 613.0,528.9 613.0,527.5 612.0,527.5 612.0,529.5 611.0,529.5 611.0,529.4 610.0,529.4 610.0,523.7 609.0,523.7 609.0,523.2 608.0,523.2 608.0,521.0 607.0,521.0 607.0,519.8 606.0,519.8 606.0,520.3 605.0,520.3 605.0,517.9 604.0,517.9 604.0,519.2 603.0,519.2 603.0,521.6 602.0,521.6 602.0,518.2 601.0,518.2 601.0,519.5 600.0,519.5 600.0,516.6 599.0,516.6 599.0,517.6 598.0,517.6 598.0,518.4 597.0,518.4 597.0,516.7 596.0,516.7 596.0,517.7 595.0,517.7 595.0,517.0 594.0,517.0 594.0,517.2 593.0,517.2 593.0,517.2 592.0,517.2 592.0,514.8 591.0,514.8 591.0,515.4 590.0,515.4 590.0,516.7 589.0,516.7 589.0,518.6 588.0,518.6 588.0,518.9 587.0,518.9 587.0,520.7 586.0,520.7 586.0,519.4 585.0,519.4 585.0,519.0 584.0,519.0 584.0,519.7 583.0,519.7 583.0,518.1 582.0,518.1 582.0,519.6 581.0,519.6 581.0,521.5 580.0,521.5 580.0,520.6 579.0,520.6 579.0,520.1 578.0,520.1 578.0,521.5 577.0,521.5 577.0,520.5 576.0,520.5 576.0,517.9 575.0,517.9 575.0,518.4 574.0,518.4 574.0,516.9 573.0,516.9 573.0,517.6 572.0,517.6 572.0,517.8 571.0,517.8 571.0,517.7 570.0,517.7 570.0,518.0 569.0,518.0 569.0,515.0 568.0,515.0 568.0,514.0 567.0,514.0 567.0,513.9 566.0,513.9 566.0,515.8 565.0,515.8 565.0,516.9 564.0,516.9 564.0,515.2 563.0,515.2 563.0,513.6 562.0,513.6 562.0,512.8 561.0,512.8 561.0,511.5 560.0,511.5" fill="#231f20" stroke="#231f20" stroke-width="0.3" stroke-linejoin="round"/>
<line x1="419.00" y1="462.00" x2="419.00" y2="495.60" stroke="#231f20" stroke-width="1.60"/>
<line x1="488.80" y1="486.00" x2="488.80" y2="508.00" stroke="#231f20" stroke-width="1.60"/>
<text xml:space="preserve" transform="translate(878.81 59.41) scale(1.0268 1)" font-size="74.01" stroke="#231f20" stroke-width="0.30" stroke-linejoin="round"><tspan>b</tspan></text>
<text xml:space="preserve" transform="translate(1146.73 26.67) scale(1.0274 1)" font-size="34.76" stroke="#231f20" stroke-width="0.45" stroke-linejoin="round"><tspan font-weight="bold">ln</tspan></text>
<text xml:space="preserve" transform="translate(1191.41 26.40) scale(0.8756 1)" font-size="38.25" stroke="#231f20" stroke-width="1.00" stroke-linejoin="round"><tspan font-weight="bold" font-style="italic">N</tspan></text>
<line x1="1173.65" y1="43.00" x2="1173.65" y2="512.30" stroke="#231f20" stroke-width="2.75"/>
<line x1="856.25" y1="510.90" x2="1491.25" y2="510.90" stroke="#231f20" stroke-width="2.80"/>
<line x1="1164.20" y1="79.85" x2="1173.65" y2="79.85" stroke="#231f20" stroke-width="2.60"/>
<line x1="1164.20" y1="225.95" x2="1173.65" y2="225.95" stroke="#231f20" stroke-width="2.60"/>
<line x1="1164.20" y1="372.05" x2="1173.65" y2="372.05" stroke="#231f20" stroke-width="2.60"/>
<line x1="1169.20" y1="152.90" x2="1173.65" y2="152.90" stroke="#231f20" stroke-width="2.60"/>
<line x1="1169.20" y1="299.00" x2="1173.65" y2="299.00" stroke="#231f20" stroke-width="2.60"/>
<line x1="1169.20" y1="445.10" x2="1173.65" y2="445.10" stroke="#231f20" stroke-width="2.60"/>
<text xml:space="preserve" transform="translate(1128.12 87.38) scale(0.9246 1)" font-size="29.37" stroke="#231f20" stroke-width="0.45" stroke-linejoin="round"><tspan font-weight="bold">10</tspan></text>
<text xml:space="preserve" transform="translate(1143.16 233.68) scale(0.9087 1)" font-size="29.37" stroke="#231f20" stroke-width="0.45" stroke-linejoin="round"><tspan font-weight="bold">8</tspan></text>
<text xml:space="preserve" transform="translate(1143.31 379.88) scale(0.9081 1)" font-size="29.37" stroke="#231f20" stroke-width="0.45" stroke-linejoin="round"><tspan font-weight="bold">6</tspan></text>
<line x1="890.38" y1="511.25" x2="890.38" y2="520.30" stroke="#231f20" stroke-width="2.70"/>
<line x1="961.11" y1="511.25" x2="961.11" y2="520.30" stroke="#231f20" stroke-width="2.70"/>
<line x1="1031.84" y1="511.25" x2="1031.84" y2="520.30" stroke="#231f20" stroke-width="2.70"/>
<line x1="1102.57" y1="511.25" x2="1102.57" y2="520.30" stroke="#231f20" stroke-width="2.70"/>
<line x1="1173.30" y1="511.25" x2="1173.30" y2="520.30" stroke="#231f20" stroke-width="2.70"/>
<line x1="1244.03" y1="511.25" x2="1244.03" y2="520.30" stroke="#231f20" stroke-width="2.70"/>
<line x1="1314.76" y1="511.25" x2="1314.76" y2="520.30" stroke="#231f20" stroke-width="2.70"/>
<line x1="1385.49" y1="511.25" x2="1385.49" y2="520.30" stroke="#231f20" stroke-width="2.70"/>
<line x1="1456.22" y1="511.25" x2="1456.22" y2="520.30" stroke="#231f20" stroke-width="2.70"/>
<line x1="925.74" y1="511.25" x2="925.74" y2="516.00" stroke="#231f20" stroke-width="2.70"/>
<line x1="996.47" y1="511.25" x2="996.47" y2="516.00" stroke="#231f20" stroke-width="2.70"/>
<line x1="1067.20" y1="511.25" x2="1067.20" y2="516.00" stroke="#231f20" stroke-width="2.70"/>
<line x1="1137.93" y1="511.25" x2="1137.93" y2="516.00" stroke="#231f20" stroke-width="2.70"/>
<line x1="1208.66" y1="511.25" x2="1208.66" y2="516.00" stroke="#231f20" stroke-width="2.70"/>
<line x1="1279.39" y1="511.25" x2="1279.39" y2="516.00" stroke="#231f20" stroke-width="2.70"/>
<line x1="1350.12" y1="511.25" x2="1350.12" y2="516.00" stroke="#231f20" stroke-width="2.70"/>
<line x1="1420.86" y1="511.25" x2="1420.86" y2="516.00" stroke="#231f20" stroke-width="2.70"/>
<text xml:space="preserve" transform="translate(878.24 548.78) scale(0.9211 1)" font-size="29.87" stroke="#231f20" stroke-width="0.45" stroke-linejoin="round"><tspan font-weight="bold">-8</tspan></text>
<text xml:space="preserve" transform="translate(949.04 548.78) scale(0.9210 1)" font-size="29.87" stroke="#231f20" stroke-width="0.45" stroke-linejoin="round"><tspan font-weight="bold">-6</tspan></text>
<text xml:space="preserve" transform="translate(1019.34 549.07) scale(0.9216 1)" font-size="29.87" stroke="#231f20" stroke-width="0.45" stroke-linejoin="round"><tspan font-weight="bold">-4</tspan></text>
<text xml:space="preserve" transform="translate(1090.53 549.07) scale(0.9209 1)" font-size="29.87" stroke="#231f20" stroke-width="0.45" stroke-linejoin="round"><tspan font-weight="bold">-2</tspan></text>
<text xml:space="preserve" transform="translate(1165.78 548.78) scale(0.9078 1)" font-size="29.87" stroke="#231f20" stroke-width="0.45" stroke-linejoin="round"><tspan font-weight="bold">0</tspan></text>
<text xml:space="preserve" transform="translate(1236.54 549.07) scale(0.9083 1)" font-size="29.87" stroke="#231f20" stroke-width="0.45" stroke-linejoin="round"><tspan font-weight="bold">2</tspan></text>
<text xml:space="preserve" transform="translate(1307.07 549.07) scale(0.9114 1)" font-size="29.87" stroke="#231f20" stroke-width="0.45" stroke-linejoin="round"><tspan font-weight="bold">4</tspan></text>
<text xml:space="preserve" transform="translate(1377.93 548.78) scale(0.9083 1)" font-size="29.87" stroke="#231f20" stroke-width="0.45" stroke-linejoin="round"><tspan font-weight="bold">6</tspan></text>
<text xml:space="preserve" transform="translate(1448.65 548.78) scale(0.9089 1)" font-size="29.87" stroke="#231f20" stroke-width="0.45" stroke-linejoin="round"><tspan font-weight="bold">8</tspan></text>
<text xml:space="preserve" transform="translate(1122.83 594.41) scale(0.9884 1)" font-size="36.94" stroke="#231f20" stroke-width="0.45" stroke-linejoin="round"><tspan font-weight="bold" font-style="italic">eV/kT</tspan></text>
<polyline points="898.0,339.8 905.0,342.1 912.0,344.4 918.9,346.6 925.9,348.8 932.9,350.9 939.9,353.0 946.9,355.0 953.8,357.0 960.8,358.9 967.8,360.8 974.8,362.6 981.8,364.4 988.8,366.1 995.7,367.7 1002.7,369.4 1009.7,370.9 1016.7,372.4 1023.7,373.9 1030.6,375.4 1037.6,376.7 1044.6,378.1 1051.6,379.4 1058.6,380.6 1065.5,381.8 1072.5,383.0 1079.5,384.1 1086.5,385.2 1093.5,386.2 1100.4,387.2 1107.4,388.1 1114.4,389.0 1121.4,389.9 1128.4,390.7 1135.4,391.5 1142.3,392.2 1149.3,392.9 1156.3,393.6 1163.3,394.2 1170.3,394.7 1177.2,395.3 1184.2,395.7 1191.2,396.2 1198.2,396.6 1205.2,396.9 1212.1,397.3 1219.1,397.5 1226.1,397.8 1233.1,398.0 1240.1,398.1 1247.1,398.2 1254.0,398.3 1261.0,398.3 1268.0,398.3 1275.0,398.2 1282.0,398.1 1288.9,397.9 1295.9,397.7 1302.9,397.5 1309.9,397.2 1316.9,396.9 1323.8,396.5 1330.8,396.1 1337.8,395.6 1344.8,395.1 1351.8,394.5 1358.7,393.9 1365.7,393.2 1372.7,392.5 1379.7,391.7 1386.7,390.9 1393.7,390.0 1400.6,389.1 1407.6,388.2 1414.6,387.1 1421.6,386.1 1428.6,384.9 1435.5,383.7 1442.5,382.5 1449.5,381.2" fill="none" stroke="#231f20" stroke-width="2.50" stroke-linejoin="round" stroke-linecap="butt"/>
<rect x="888.85" y="335.40" width="17.3" height="17.3" fill="#231f20"/>
<rect x="957.75" y="350.40" width="17.3" height="17.3" fill="#231f20"/>
<rect x="1026.75" y="362.35" width="17.3" height="17.3" fill="#231f20"/>
<rect x="1095.85" y="375.45" width="17.3" height="17.3" fill="#231f20"/>
<rect x="1233.85" y="392.85" width="17.3" height="17.3" fill="#231f20"/>
<rect x="1302.75" y="393.55" width="17.3" height="17.3" fill="#231f20"/>
<rect x="1371.75" y="384.35" width="17.3" height="17.3" fill="#231f20"/>
<rect x="1440.60" y="369.05" width="17.3" height="17.3" fill="#231f20"/>
<rect x="1227" y="7.6" width="420.4" height="310.2" fill="none" stroke="#333" stroke-width="1.3"/>
<text xml:space="preserve" transform="translate(1501.08 32.75) scale(0.9625 1)" font-size="20.18" stroke="#231f20" stroke-width="0.30" stroke-linejoin="round"><tspan>200 mV</tspan></text>
<text xml:space="preserve" transform="translate(1404.96 69.90) scale(0.9483 1)" font-size="20.18" stroke="#231f20" stroke-width="0.30" stroke-linejoin="round"><tspan>150 mV</tspan></text>
<text xml:space="preserve" transform="translate(1333.46 101.25) scale(0.9520 1)" font-size="20.18" stroke="#231f20" stroke-width="0.30" stroke-linejoin="round"><tspan>100 mV</tspan></text>
<text xml:space="preserve" transform="translate(1276.88 121.55) scale(0.9527 1)" font-size="20.18" stroke="#231f20" stroke-width="0.30" stroke-linejoin="round"><tspan>50 mV</tspan></text>
<text xml:space="preserve" transform="translate(1248.08 173.55) scale(0.9566 1)" font-size="20.18" stroke="#231f20" stroke-width="0.30" stroke-linejoin="round"><tspan>0 pA</tspan></text>
<text xml:space="preserve" transform="translate(1288.02 216.75) scale(0.9676 1)" font-size="20.18" stroke="#231f20" stroke-width="0.30" stroke-linejoin="round"><tspan>-50 mV</tspan></text>
<text xml:space="preserve" transform="translate(1344.28 248.15) scale(0.9591 1)" font-size="20.18" stroke="#231f20" stroke-width="0.30" stroke-linejoin="round"><tspan>-100 mV</tspan></text>
<text xml:space="preserve" transform="translate(1429.27 252.65) scale(0.9691 1)" font-size="20.18" stroke="#231f20" stroke-width="0.30" stroke-linejoin="round"><tspan>-150 mV</tspan></text>
<text xml:space="preserve" transform="translate(1545.67 267.75) scale(0.9638 1)" font-size="20.18" stroke="#231f20" stroke-width="0.30" stroke-linejoin="round"><tspan>-200 mV</tspan></text>
<text xml:space="preserve" transform="translate(1380.29 292.35) scale(1.0032 1)" font-size="18.69" stroke="#231f20" stroke-width="0.42" stroke-linejoin="round"><tspan font-weight="bold">100 pA</tspan></text>
<text xml:space="preserve" transform="translate(1354.25 313.36) scale(1.0350 1)" font-size="18.28" stroke="#231f20" stroke-width="0.42" stroke-linejoin="round"><tspan font-weight="bold">6 s</tspan></text>
<polyline points="1353.1,294.3 1376.5,294.3 1376.5,278.8" fill="none" stroke="#555" stroke-width="0.90" stroke-linejoin="miter" stroke-linecap="butt"/>
<line x1="1288.00" y1="168.30" x2="1631.40" y2="168.30" stroke="#231f20" stroke-width="1.20" stroke-dasharray="5.3 5.606"/>
<rect x="1303.85" y="127.50" width="2.80" height="10.40" fill="#231f20"/>
<polygon points="1305.25,149.80 1301.99,137.70 1305.25,138.70 1308.51,137.70" fill="#231f20" stroke="#231f20" stroke-width="1.60" stroke-linejoin="round"/>
<rect x="1349.20" y="104.60" width="2.80" height="17.00" fill="#231f20"/>
<polygon points="1350.60,133.95 1347.34,121.40 1350.60,122.40 1353.86,121.40" fill="#231f20" stroke="#231f20" stroke-width="1.60" stroke-linejoin="round"/>
<rect x="1426.10" y="76.75" width="2.80" height="13.00" fill="#231f20"/>
<polygon points="1427.50,102.30 1424.24,89.55 1427.50,90.55 1430.76,89.55" fill="#231f20" stroke="#231f20" stroke-width="1.60" stroke-linejoin="round"/>
<rect x="1522.50" y="37.50" width="2.80" height="8.50" fill="#231f20"/>
<polygon points="1523.90,58.60 1520.64,45.80 1523.90,46.80 1527.16,45.80" fill="#231f20" stroke="#231f20" stroke-width="1.60" stroke-linejoin="round"/>
<rect x="1317.70" y="190.50" width="2.80" height="5.75" fill="#231f20"/>
<polygon points="1319.10,180.90 1317.07,190.10 1319.10,189.60 1321.13,190.10" fill="#231f20" stroke="#231f20" stroke-width="1.80" stroke-linejoin="round"/>
<rect x="1373.85" y="220.10" width="2.80" height="9.90" fill="#231f20"/>
<polygon points="1375.25,210.65 1373.22,219.70 1375.25,219.20 1377.28,219.70" fill="#231f20" stroke="#231f20" stroke-width="1.80" stroke-linejoin="round"/>
<rect x="1449.85" y="220.10" width="2.80" height="11.15" fill="#231f20"/>
<polygon points="1451.25,210.65 1449.22,219.70 1451.25,219.20 1453.28,219.70" fill="#231f20" stroke="#231f20" stroke-width="1.80" stroke-linejoin="round"/>
<rect x="1571.20" y="238.80" width="2.80" height="8.45" fill="#231f20"/>
<polygon points="1572.60,229.40 1570.57,238.40 1572.60,237.90 1574.63,238.40" fill="#231f20" stroke="#231f20" stroke-width="1.80" stroke-linejoin="round"/>
<line x1="1296.20" y1="168.10" x2="1306.30" y2="168.10" stroke="#231f20" stroke-width="2.60"/>
<line x1="1305.00" y1="169.40" x2="1305.00" y2="154.40" stroke="#231f20" stroke-width="2.60"/>
<polygon points="1305.0,158.0 1306.1,158.1 1307.2,158.1 1308.3,157.9 1309.4,158.2 1310.5,158.1 1311.6,158.1 1312.7,157.9 1313.8,158.3 1314.9,158.3 1316.0,158.3 1317.1,158.0 1318.2,158.4 1319.3,158.2 1319.3,161.1 1318.2,160.9 1317.1,160.8 1316.0,160.8 1314.9,160.8 1313.8,160.9 1312.7,160.8 1311.6,160.9 1310.5,160.8 1309.4,160.7 1308.3,160.9 1307.2,160.8 1306.1,160.8 1305.0,160.8" fill="#231f20" stroke="#231f20" stroke-width="0.3" stroke-linejoin="round"/>
<line x1="1319.75" y1="158.00" x2="1319.75" y2="179.40" stroke="#231f20" stroke-width="2.60"/>
<polygon points="1319.8,175.2 1320.8,175.5 1321.9,175.7 1323.0,175.5 1324.1,175.1 1325.2,175.8 1326.3,175.7 1327.4,175.9 1328.5,175.6 1329.6,175.9 1330.7,175.1 1331.8,175.8 1332.9,175.7 1334.0,175.9 1335.1,175.9 1336.2,176.1 1337.3,175.5 1338.4,176.0 1339.5,176.1 1340.6,176.0 1341.7,176.1 1342.8,176.1 1343.9,176.1 1345.0,175.2 1346.1,175.7 1347.2,176.2 1348.3,175.8 1349.4,176.4 1350.5,176.1 1350.5,179.7 1349.4,178.8 1348.3,178.7 1347.2,178.8 1346.1,178.8 1345.0,179.7 1343.9,179.2 1342.8,179.8 1341.7,178.7 1340.6,178.8 1339.5,178.7 1338.4,179.7 1337.3,178.8 1336.2,178.5 1335.1,178.7 1334.0,178.6 1332.9,178.4 1331.8,178.7 1330.7,178.4 1329.6,178.4 1328.5,178.3 1327.4,178.3 1326.3,178.3 1325.2,179.3 1324.1,178.5 1323.0,178.6 1321.9,178.2 1320.8,178.2 1319.8,178.7" fill="#231f20" stroke="#231f20" stroke-width="0.3" stroke-linejoin="round"/>
<line x1="1351.00" y1="178.90" x2="1351.00" y2="139.40" stroke="#231f20" stroke-width="2.60"/>
<polygon points="1351.0,140.6 1352.1,141.8 1353.2,143.0 1354.3,142.0 1355.4,143.7 1356.5,143.4 1357.6,143.6 1358.7,143.4 1359.8,143.5 1360.9,143.7 1362.0,143.9 1363.1,144.1 1364.2,143.7 1365.3,144.5 1366.4,144.5 1367.5,144.0 1368.6,143.7 1369.7,144.3 1370.8,144.9 1371.9,144.1 1373.0,143.4 1374.1,144.9 1375.2,145.0 1376.3,145.1 1376.3,148.8 1375.2,148.5 1374.1,148.5 1373.0,148.4 1371.9,148.4 1370.8,149.2 1369.7,148.1 1368.6,148.4 1367.5,147.7 1366.4,147.7 1365.3,149.5 1364.2,149.0 1363.1,148.2 1362.0,147.9 1360.9,147.3 1359.8,147.2 1358.7,147.1 1357.6,147.2 1356.5,147.3 1355.4,147.1 1354.3,148.4 1353.2,146.1 1352.1,145.2 1351.0,144.5" fill="#231f20" stroke="#231f20" stroke-width="0.3" stroke-linejoin="round"/>
<line x1="1376.90" y1="145.00" x2="1376.90" y2="207.40" stroke="#231f20" stroke-width="2.60"/>
<polygon points="1376.9,185.9 1378.0,184.5 1379.1,185.5 1380.2,185.4 1381.3,185.1 1382.4,185.8 1383.5,185.4 1384.6,185.9 1385.7,186.2 1386.8,186.5 1387.9,186.3 1389.0,186.3 1390.1,186.2 1391.2,185.9 1392.3,186.4 1393.4,186.8 1394.5,186.9 1395.6,186.2 1396.7,186.2 1397.8,186.9 1398.9,187.1 1400.0,187.2 1401.1,187.2 1402.2,186.3 1403.3,187.2 1404.4,187.2 1405.5,186.8 1406.6,187.4 1407.7,187.3 1408.8,187.3 1409.9,187.5 1411.0,187.7 1412.1,187.6 1413.2,187.9 1414.3,187.8 1415.4,187.8 1416.5,188.0 1417.6,186.3 1418.7,187.7 1419.8,187.2 1420.9,187.2 1422.0,188.2 1423.1,188.4 1424.2,186.7 1425.3,188.3 1426.4,188.2 1427.5,187.9 1427.5,191.8 1426.4,191.3 1425.3,192.0 1424.2,191.7 1423.1,191.2 1422.0,192.3 1420.9,192.0 1419.8,191.7 1418.7,191.8 1417.6,191.0 1416.5,190.9 1415.4,190.8 1414.3,190.8 1413.2,190.7 1412.1,191.0 1411.0,190.4 1409.9,191.9 1408.8,190.6 1407.7,190.3 1406.6,190.7 1405.5,190.3 1404.4,190.3 1403.3,190.0 1402.2,190.3 1401.1,190.3 1400.0,189.8 1398.9,189.9 1397.8,190.2 1396.7,189.7 1395.6,190.1 1394.5,189.6 1393.4,189.6 1392.3,190.0 1391.2,189.5 1390.1,189.6 1389.0,189.3 1387.9,189.3 1386.8,189.7 1385.7,189.3 1384.6,189.6 1383.5,189.1 1382.4,189.0 1381.3,188.8 1380.2,188.9 1379.1,188.9 1378.0,189.0 1376.9,188.8" fill="#231f20" stroke="#231f20" stroke-width="0.3" stroke-linejoin="round"/>
<line x1="1428.10" y1="191.30" x2="1428.10" y2="109.25" stroke="#231f20" stroke-width="2.60"/>
<polygon points="1428.1,113.7 1429.2,120.0 1430.3,122.5 1431.4,124.3 1432.5,125.0 1433.6,126.1 1434.7,125.1 1435.8,126.9 1436.9,126.3 1438.0,127.2 1439.1,126.8 1440.2,127.4 1441.3,127.0 1442.4,126.9 1443.5,127.3 1444.6,126.9 1445.7,127.4 1446.8,127.8 1447.9,127.8 1449.0,127.9 1450.1,127.7 1451.2,126.5 1451.2,132.1 1450.1,131.7 1449.0,131.9 1447.9,132.8 1446.8,131.6 1445.7,131.8 1444.6,131.7 1443.5,131.6 1442.4,131.2 1441.3,131.9 1440.2,131.1 1439.1,131.0 1438.0,130.9 1436.9,132.5 1435.8,131.0 1434.7,131.5 1433.6,129.9 1432.5,129.9 1431.4,129.4 1430.3,127.3 1429.2,124.7 1428.1,118.0" fill="#231f20" stroke="#231f20" stroke-width="0.3" stroke-linejoin="round"/>
<line x1="1451.90" y1="129.00" x2="1451.90" y2="204.00" stroke="#231f20" stroke-width="2.60"/>
<polygon points="1451.9,200.3 1453.0,200.0 1454.1,200.7 1455.2,199.8 1456.3,201.1 1457.4,201.1 1458.5,201.4 1459.6,201.3 1460.7,201.6 1461.8,201.7 1462.9,201.9 1464.0,201.9 1465.1,202.4 1466.2,202.6 1467.3,202.8 1468.4,203.0 1469.5,202.8 1470.6,202.1 1471.7,202.4 1472.8,202.1 1473.9,203.9 1475.0,203.5 1476.1,204.2 1477.2,203.6 1478.3,203.6 1479.4,204.4 1480.5,202.6 1481.6,204.5 1482.7,204.5 1483.8,204.8 1484.9,204.2 1486.0,204.7 1487.1,204.8 1488.2,204.9 1489.3,204.6 1490.4,205.3 1491.5,204.9 1492.6,205.3 1493.7,205.2 1494.8,205.2 1495.9,204.8 1497.0,203.7 1498.1,205.0 1499.2,205.0 1500.3,204.6 1501.4,204.9 1502.5,204.6 1503.6,204.5 1504.7,204.7 1505.8,203.6 1506.9,204.4 1508.0,204.1 1509.1,204.4 1510.2,202.7 1511.3,204.3 1512.4,204.0 1513.5,204.2 1514.6,204.1 1515.7,204.1 1516.8,203.9 1517.9,204.0 1519.0,203.7 1520.1,203.5 1521.2,203.8 1522.3,203.1 1523.4,203.7 1523.4,207.2 1522.3,207.8 1521.2,207.1 1520.1,207.0 1519.0,208.3 1517.9,207.1 1516.8,207.6 1515.7,207.2 1514.6,207.4 1513.5,207.3 1512.4,207.4 1511.3,207.7 1510.2,207.9 1509.1,208.1 1508.0,208.1 1506.9,209.6 1505.8,207.7 1504.7,208.2 1503.6,208.0 1502.5,208.0 1501.4,209.4 1500.3,208.6 1499.2,209.0 1498.1,208.7 1497.0,208.2 1495.9,209.2 1494.8,208.3 1493.7,208.5 1492.6,209.2 1491.5,208.5 1490.4,208.7 1489.3,208.4 1488.2,208.5 1487.1,208.8 1486.0,208.2 1484.9,208.8 1483.8,210.0 1482.7,208.3 1481.6,208.1 1480.5,208.2 1479.4,207.9 1478.3,209.6 1477.2,207.4 1476.1,207.6 1475.0,207.5 1473.9,207.0 1472.8,207.4 1471.7,207.9 1470.6,206.5 1469.5,206.3 1468.4,206.2 1467.3,206.1 1466.2,206.0 1465.1,207.4 1464.0,205.6 1462.9,206.0 1461.8,205.3 1460.7,206.5 1459.6,205.0 1458.5,204.6 1457.4,204.3 1456.3,204.2 1455.2,203.9 1454.1,204.2 1453.0,204.4 1451.9,203.8" fill="#231f20" stroke="#231f20" stroke-width="0.3" stroke-linejoin="round"/>
<line x1="1523.60" y1="207.70" x2="1523.60" y2="64.70" stroke="#231f20" stroke-width="2.60"/>
<polygon points="1523.6,69.1 1524.7,74.7 1525.8,80.6 1526.9,83.8 1528.0,82.7 1529.1,86.5 1530.2,89.4 1531.3,92.3 1532.4,93.1 1533.5,94.8 1534.6,96.0 1535.7,94.5 1536.8,97.8 1537.9,98.8 1539.0,98.1 1540.1,99.2 1541.2,99.3 1542.3,100.6 1543.4,100.6 1544.5,101.1 1545.6,101.7 1546.7,102.2 1547.8,101.0 1548.9,102.1 1550.0,102.9 1551.1,103.8 1552.2,103.5 1553.3,104.3 1554.4,105.2 1555.5,104.7 1556.6,105.0 1557.7,103.4 1558.8,105.2 1559.9,107.0 1561.0,107.1 1562.1,107.8 1563.2,108.0 1564.3,107.6 1565.4,108.1 1566.5,108.4 1567.6,107.7 1568.7,105.3 1569.8,104.5 1570.9,105.0 1572.0,104.4 1572.0,110.3 1570.9,110.1 1569.8,111.0 1568.7,112.7 1567.6,113.9 1566.5,113.5 1565.4,113.9 1564.3,113.7 1563.2,115.8 1562.1,112.9 1561.0,112.3 1559.9,113.2 1558.8,112.8 1557.7,111.6 1556.6,111.0 1555.5,111.6 1554.4,110.2 1553.3,112.9 1552.2,110.7 1551.1,109.4 1550.0,108.6 1548.9,111.1 1547.8,108.7 1546.7,108.9 1545.6,108.2 1544.5,106.7 1543.4,106.4 1542.3,107.4 1541.2,105.4 1540.1,105.0 1539.0,104.7 1537.9,104.3 1536.8,103.2 1535.7,102.1 1534.6,102.0 1533.5,100.0 1532.4,98.9 1531.3,99.0 1530.2,96.1 1529.1,93.8 1528.0,92.2 1526.9,89.0 1525.8,88.4 1524.7,81.2 1523.6,74.4" fill="#231f20" stroke="#231f20" stroke-width="0.3" stroke-linejoin="round"/>
<line x1="1572.60" y1="104.00" x2="1572.60" y2="221.90" stroke="#231f20" stroke-width="2.60"/>
<polygon points="1572.6,213.3 1573.7,213.8 1574.8,214.5 1575.9,214.9 1577.0,214.4 1578.1,214.5 1579.2,215.2 1580.3,217.0 1581.4,216.9 1582.5,217.0 1583.6,218.1 1584.7,218.3 1585.8,217.8 1586.9,218.7 1588.0,219.0 1589.1,220.2 1590.2,220.6 1591.3,220.2 1592.4,220.8 1593.5,221.5 1594.6,221.8 1595.7,221.9 1596.8,221.6 1597.9,222.2 1599.0,222.0 1600.1,222.8 1601.2,222.4 1602.3,223.3 1603.4,222.0 1604.5,223.6 1605.6,223.9 1606.7,222.9 1607.8,223.9 1608.9,223.9 1610.0,224.3 1611.1,224.3 1612.2,224.2 1613.3,224.5 1614.4,224.3 1615.5,224.7 1616.6,224.7 1617.7,225.1 1618.8,224.8 1619.9,224.7 1621.0,223.9 1622.1,224.7 1623.2,225.6 1623.2,229.4 1622.1,229.7 1621.0,230.9 1619.9,229.8 1618.8,229.2 1617.7,228.8 1616.6,228.8 1615.5,228.6 1614.4,230.0 1613.3,228.3 1612.2,228.6 1611.1,229.3 1610.0,228.9 1608.9,228.8 1607.8,227.9 1606.7,227.9 1605.6,227.6 1604.5,228.2 1603.4,227.8 1602.3,227.4 1601.2,226.9 1600.1,228.9 1599.0,226.6 1597.9,226.4 1596.8,227.1 1595.7,226.6 1594.6,225.7 1593.5,225.5 1592.4,225.1 1591.3,225.0 1590.2,224.3 1589.1,225.2 1588.0,223.7 1586.9,224.4 1585.8,223.9 1584.7,222.6 1583.6,223.1 1582.5,221.9 1581.4,221.4 1580.3,220.9 1579.2,220.8 1578.1,220.4 1577.0,219.4 1575.9,218.9 1574.8,219.3 1573.7,218.9 1572.6,217.7" fill="#231f20" stroke="#231f20" stroke-width="0.3" stroke-linejoin="round"/>
</svg>
</body>
</html>
